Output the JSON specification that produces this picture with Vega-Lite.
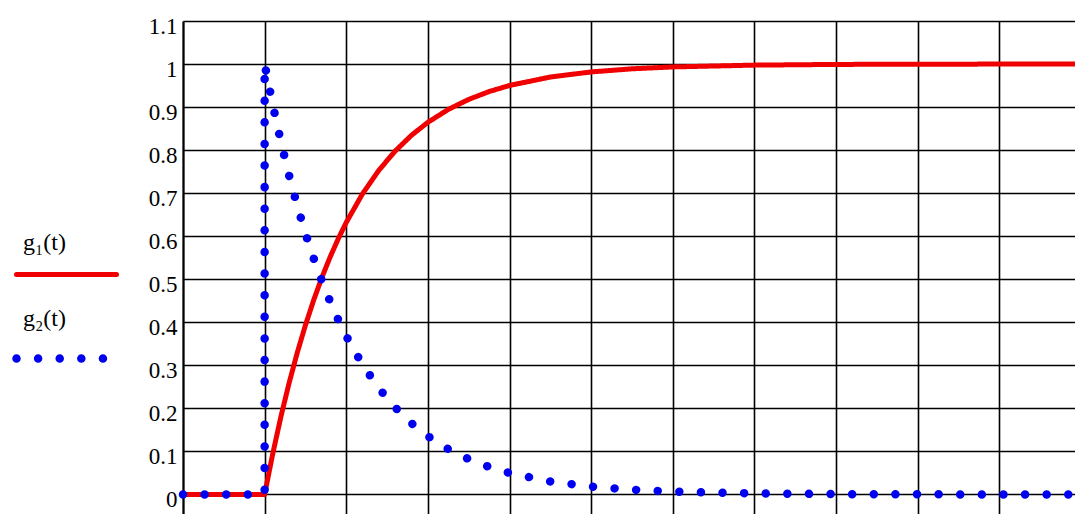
{
  "$schema": "https://vega.github.io/schema/vega-lite/v6.json",
  "autosize": "none",
  "padding": {"left": 183, "top": 21, "right": 0, "bottom": 0},
  "width": 898,
  "height": 495,
  "background": "white",
  "config": {"view": {"stroke": null}, "font": "Liberation Serif"},
  "data": {"values": [
    {"i": 1, "s": "g₁(t)", "t": -1, "g": 0},
    {"i": 2, "s": "g₁(t)", "t": 0, "g": 0},
    {"i": 3, "s": "g₁(t)", "t": 0.1, "g": 0.0952},
    {"i": 4, "s": "g₁(t)", "t": 0.2, "g": 0.1813},
    {"i": 5, "s": "g₁(t)", "t": 0.3, "g": 0.2592},
    {"i": 6, "s": "g₁(t)", "t": 0.4, "g": 0.3297},
    {"i": 7, "s": "g₁(t)", "t": 0.5, "g": 0.3935},
    {"i": 8, "s": "g₁(t)", "t": 0.6, "g": 0.4512},
    {"i": 9, "s": "g₁(t)", "t": 0.7, "g": 0.5034},
    {"i": 10, "s": "g₁(t)", "t": 0.8, "g": 0.5507},
    {"i": 11, "s": "g₁(t)", "t": 0.9, "g": 0.5934},
    {"i": 12, "s": "g₁(t)", "t": 1.0, "g": 0.6321},
    {"i": 13, "s": "g₁(t)", "t": 1.2, "g": 0.6988},
    {"i": 14, "s": "g₁(t)", "t": 1.4, "g": 0.7534},
    {"i": 15, "s": "g₁(t)", "t": 1.6, "g": 0.7981},
    {"i": 16, "s": "g₁(t)", "t": 1.8, "g": 0.8347},
    {"i": 17, "s": "g₁(t)", "t": 2.0, "g": 0.8647},
    {"i": 18, "s": "g₁(t)", "t": 2.25, "g": 0.8946},
    {"i": 19, "s": "g₁(t)", "t": 2.5, "g": 0.9179},
    {"i": 20, "s": "g₁(t)", "t": 2.75, "g": 0.9361},
    {"i": 21, "s": "g₁(t)", "t": 3.0, "g": 0.9502},
    {"i": 22, "s": "g₁(t)", "t": 3.5, "g": 0.9698},
    {"i": 23, "s": "g₁(t)", "t": 4.0, "g": 0.9817},
    {"i": 24, "s": "g₁(t)", "t": 4.5, "g": 0.9889},
    {"i": 25, "s": "g₁(t)", "t": 5, "g": 0.9933},
    {"i": 26, "s": "g₁(t)", "t": 6, "g": 0.9975},
    {"i": 27, "s": "g₁(t)", "t": 7, "g": 0.9991},
    {"i": 28, "s": "g₁(t)", "t": 8, "g": 0.9997},
    {"i": 29, "s": "g₁(t)", "t": 10, "g": 1.0},
    {"i": 101, "s": "g₂(t)", "t": -1, "g": 0},
    {"i": 102, "s": "g₂(t)", "t": 0, "g": 0},
    {"i": 103, "s": "g₂(t)", "t": 0, "g": 1},
    {"i": 104, "s": "g₂(t)", "t": 0.1, "g": 0.9048},
    {"i": 105, "s": "g₂(t)", "t": 0.2, "g": 0.8187},
    {"i": 106, "s": "g₂(t)", "t": 0.3, "g": 0.7408},
    {"i": 107, "s": "g₂(t)", "t": 0.4, "g": 0.6703},
    {"i": 108, "s": "g₂(t)", "t": 0.5, "g": 0.6065},
    {"i": 109, "s": "g₂(t)", "t": 0.6, "g": 0.5488},
    {"i": 110, "s": "g₂(t)", "t": 0.7, "g": 0.4966},
    {"i": 111, "s": "g₂(t)", "t": 0.8, "g": 0.4493},
    {"i": 112, "s": "g₂(t)", "t": 0.9, "g": 0.4066},
    {"i": 113, "s": "g₂(t)", "t": 1.0, "g": 0.3679},
    {"i": 114, "s": "g₂(t)", "t": 1.2, "g": 0.3012},
    {"i": 115, "s": "g₂(t)", "t": 1.4, "g": 0.2466},
    {"i": 116, "s": "g₂(t)", "t": 1.6, "g": 0.2019},
    {"i": 117, "s": "g₂(t)", "t": 1.8, "g": 0.1653},
    {"i": 118, "s": "g₂(t)", "t": 2.0, "g": 0.1353},
    {"i": 119, "s": "g₂(t)", "t": 2.25, "g": 0.1054},
    {"i": 120, "s": "g₂(t)", "t": 2.5, "g": 0.0821},
    {"i": 121, "s": "g₂(t)", "t": 2.75, "g": 0.0639},
    {"i": 122, "s": "g₂(t)", "t": 3.0, "g": 0.0498},
    {"i": 123, "s": "g₂(t)", "t": 3.5, "g": 0.0302},
    {"i": 124, "s": "g₂(t)", "t": 4.0, "g": 0.0183},
    {"i": 125, "s": "g₂(t)", "t": 4.5, "g": 0.0111},
    {"i": 126, "s": "g₂(t)", "t": 5, "g": 0.0067},
    {"i": 127, "s": "g₂(t)", "t": 6, "g": 0.0025},
    {"i": 128, "s": "g₂(t)", "t": 7, "g": 0.0009},
    {"i": 129, "s": "g₂(t)", "t": 8, "g": 0.0003},
    {"i": 130, "s": "g₂(t)", "t": 10, "g": 0.0}
  ]},
  "mark": {"type": "line", "strokeCap": "round", "strokeJoin": "round", "clip": false},
  "encoding": {
    "x": {
      "field": "t", "type": "quantitative",
      "scale": {"domain": [-1, 10], "nice": false, "zero": false},
      "axis": {"values": [-1, 0, 1, 2, 3, 4, 5, 6, 7, 8, 9, 10], "labels": false, "ticks": false, "domain": false, "title": null, "grid": true, "gridColor": "#000000", "gridOpacity": 1, "gridWidth": 1.6}
    },
    "y": {
      "field": "g", "type": "quantitative",
      "scale": {"domain": [-0.05, 1.1], "nice": false, "zero": false},
      "axis": {"values": [0, 0.1, 0.2, 0.3, 0.4, 0.5, 0.6, 0.7, 0.8, 0.9, 1, 1.1], "format": "~g", "title": null, "ticks": false, "domain": true, "domainColor": "#000000", "domainWidth": 2, "grid": true, "gridColor": "#000000", "gridOpacity": 1, "gridWidth": 1.6, "labelFont": "Liberation Serif", "labelFontSize": 23, "labelColor": "#000000", "labelPadding": 6, "labelOffset": 5}
    },
    "order": {"field": "i", "type": "quantitative"},
    "color": {
      "field": "s", "type": "nominal",
      "scale": {"domain": ["g₁(t)", "g₂(t)"], "range": ["#f00000", "#0000f0"]},
      "legend": {
        "title": null,
        "orient": "none",
        "legendX": -131,
        "legendY": 241,
        "symbolType": "M-5,0H5",
        "symbolSize": 400,
        "rowPadding": 21,
        "labelFont": "Liberation Serif",
        "labelFontSize": 24,
        "labelColor": "#000000",
        "labelBaseline": "alphabetic",
        "labelOffset": -58,
        "encode": {
          "symbols": {"update": {"strokeCap": {"value": "round"}}},
          "labels": {"update": {"dy": {"signal": "datum.value == 'g₁(t)' ? -25 : -33"}}}
        }
      }
    },
    "strokeDash": {
      "field": "s", "type": "nominal",
      "scale": {"domain": ["g₁(t)", "g₂(t)"], "range": [[1, 0], [0.01, 21.6]]},
      "legend": null
    },
    "strokeWidth": {
      "field": "s", "type": "nominal",
      "scale": {"domain": ["g₁(t)", "g₂(t)"], "range": [5, 8.5]},
      "legend": null
    }
  }
}
